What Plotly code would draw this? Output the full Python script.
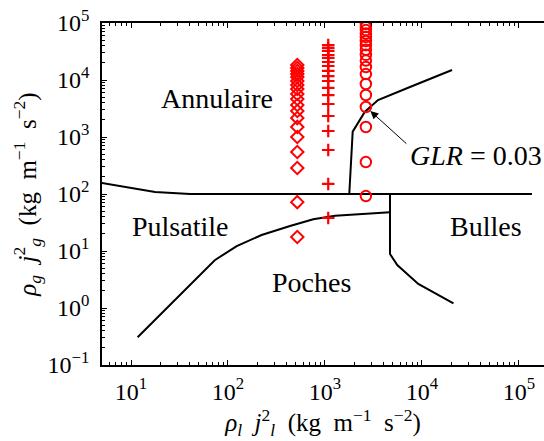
import math
import plotly.graph_objects as go

# ---- data ----
diamond_x = 518
diamond_y = [17.6, 72, 286, 546, 1000, 1500, 2150, 2860, 3640, 4640, 5680,
             6950, 8170, 9600, 11300, 12700, 14400, 16200, 18300]

plus_x = 1080
plus_y = [37.9, 150, 591, 1274, 2335, 3790, 5450, 7250, 9600, 11700, 14400,
          17600, 20700, 24300, 27400, 32400, 36500, 41000]

circle_x = 2640
circle_y = [92, 363, 1500, 3360, 5450, 8500, 12700, 16900, 21900, 27600,
            33900, 40800, 48400, 56600, 65500, 75000, 85300, 96100]

# boundary lines
top_x = [5, 17.7, 40.6, 136000]
top_y = [156, 108, 100, 100]

low_x = [11.7, 73, 123, 222, 436, 757, 1270, 4680]
low_y = [0.306, 6.9, 12.2, 19.1, 27.5, 36, 41.6, 47.8]

bub_x = [4680, 4680, 5560, 9160, 21100]
bub_y = [100, 8.86, 5.67, 2.64, 1.21]

glr_x = [1780, 1930, 2580, 3520, 7520, 20400]
glr_y = [100, 1240, 2780, 4450, 7530, 14960]

xtick_vals = [10, 100, 1000, 10000, 100000]
xtick_text = ["10<sup>1</sup>", "10<sup>2</sup>", "10<sup>3</sup>", "10<sup>4</sup>", "10<sup>5</sup>"]
ytick_vals = [0.1, 1, 10, 100, 1000, 10000, 100000]
ytick_text = ["10<sup>−1</sup>", "10<sup>0</sup>", "10<sup>1</sup>", "10<sup>2</sup>",
              "10<sup>3</sup>", "10<sup>4</sup>", "10<sup>5</sup>"]

regions = [("Annulaire", 0.260, 0.778), ("Pulsatile", 0.176, 0.406),
           ("Poches", 0.473, 0.240), ("Bulles", 0.869, 0.406)]

FONT = "Liberation Serif, DejaVu Serif, serif"
RED = "#ff0000"

fig = go.Figure()
line_style = dict(color="black", width=2)
for xs, ys in [(top_x, top_y), (low_x, low_y), (bub_x, bub_y), (glr_x, glr_y)]:
    fig.add_trace(go.Scatter(x=xs, y=ys, mode="lines", line=line_style,
                             showlegend=False, hoverinfo="skip"))

fig.add_trace(go.Scatter(x=[diamond_x] * len(diamond_y), y=diamond_y, mode="markers",
                         marker=dict(symbol="diamond-open", size=9.5, color=RED,
                                     line=dict(color=RED, width=2)), showlegend=False))
fig.add_trace(go.Scatter(x=[plus_x] * len(plus_y), y=plus_y, mode="markers",
                         marker=dict(symbol="cross-thin-open", size=9, color=RED,
                                     line=dict(color=RED, width=2.2)), showlegend=False))
fig.add_trace(go.Scatter(x=[circle_x] * len(circle_y), y=circle_y, mode="markers",
                         marker=dict(symbol="circle-open", size=10.5, color=RED,
                                     line=dict(color=RED, width=2)), showlegend=False))

annotations = []
for txt, px, py in regions:
    annotations.append(dict(text=txt, x=px, y=py, xref="paper", yref="paper",
                            xanchor="center", yanchor="middle",
                            showarrow=False, font=dict(family=FONT, size=28, color="black")))
annotations.append(dict(text="<i>GLR</i> = 0.03", x=0.846, y=0.614, xref="paper", yref="paper",
                        xanchor="center", yanchor="middle",
                        showarrow=False, font=dict(family=FONT, size=28, color="black")))
annotations.append(dict(text="", x=math.log10(circle_x), y=math.log10(circle_y[3]),
                        xref="x", yref="y", showarrow=True, ax=42, ay=38,
                        arrowhead=2, arrowsize=1.6, arrowwidth=1, arrowcolor="black",
                        standoff=6))

minor_x = [m * 10 ** k for k in range(0, 6) for m in range(2, 10)]
minor_y = [m * 10 ** k for k in range(-1, 5) for m in range(2, 10)]

fig.update_layout(
    width=544, height=441,
    margin=dict(l=102, r=0, t=23, b=76),
    paper_bgcolor="white", plot_bgcolor="white",
    font=dict(family=FONT, size=24, color="black"),
    annotations=annotations,
    xaxis=dict(type="log", range=[0.701, 5.258], showgrid=False, zeroline=False,
               showline=True, linecolor="black", linewidth=1.5, mirror="allticks",
               ticks="inside", ticklen=5, tickwidth=1, tickcolor="black",
               tickmode="array", tickvals=xtick_vals, ticktext=xtick_text,
               tickfont=dict(family=FONT, size=24), ticklabelstandoff=4,
               minor=dict(ticks="inside", ticklen=3, tickwidth=1, tickcolor="black",
                          tickmode="array", tickvals=minor_x, showgrid=False),
               title=dict(text="<i>ρ<sub>l</sub></i>  <i>j</i><sup>2</sup><sub><i>l</i></sub>  (kg  m<sup>−1</sup>  s<sup>−2</sup>)",
                          font=dict(family=FONT, size=25), standoff=0)),
    yaxis=dict(type="log", range=[-1, 5], showgrid=False, zeroline=False,
               showline=True, linecolor="black", linewidth=1.5,
               ticks="inside", ticklen=5, tickwidth=1, tickcolor="black",
               tickmode="array", tickvals=ytick_vals, ticktext=ytick_text,
               tickfont=dict(family=FONT, size=24), ticklabelstandoff=6,
               minor=dict(ticks="inside", ticklen=3, tickwidth=1, tickcolor="black",
                          tickmode="array", tickvals=minor_y, showgrid=False),
               title=dict(text="<i>ρ<sub>g</sub></i>  <i>j</i><sup>2</sup><sub><i>g</i></sub>  (kg  m<sup>−1</sup>  s<sup>−2</sup>)",
                          font=dict(family=FONT, size=25), standoff=4)),
)

fig.write_html("out.html", config={"displayModeBar": False},
               post_script="document.body.style.margin='0';document.body.style.overflow='hidden';")
